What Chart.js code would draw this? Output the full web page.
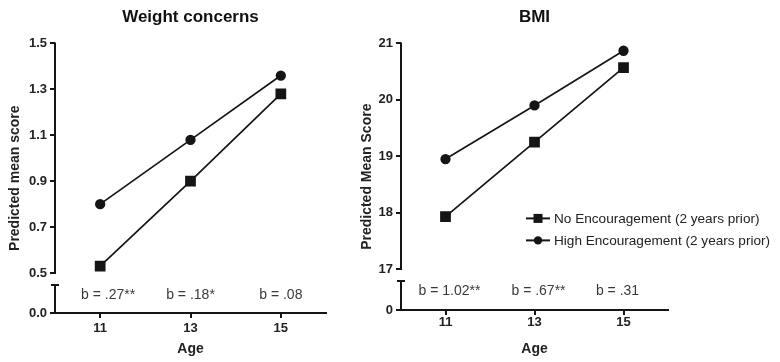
<!DOCTYPE html>
<html>
<head>
<meta charset="utf-8">
<script src="https://cdn.jsdelivr.net/npm/chart.js@4.4.1/dist/chart.umd.min.js"></script>
<style>
  html, body { margin: 0; padding: 0; background: #fff; }
  body { width: 780px; height: 362px; position: relative; overflow: hidden; }
  .panel { position: absolute; top: 0; height: 362px; }
  #leftPanel { left: 0; width: 340px; }
  #rightPanel { left: 340px; width: 440px; }
</style>
</head>
<body>
<div class="panel" id="leftPanel"><canvas id="weightChart"></canvas></div>
<div class="panel" id="rightPanel"><canvas id="bmiChart"></canvas></div>
<script>
/* global Chart */
const ages = [11, 13, 15];
const seriesLabels = ["No Encouragement (2 years prior)", "High Encouragement (2 years prior)"];

const weightNoEnc = [0.53, 0.90, 1.28];
const weightHighEnc = [0.80, 1.08, 1.36];
const weightTicks = [0.5, 0.7, 0.9, 1.1, 1.3, 1.5];
const weightSlopes = ["b = .27**", "b = .18*", "b = .08"];

const bmiNoEnc = [17.93, 19.25, 20.57];
const bmiHighEnc = [18.95, 19.90, 20.87];
const bmiTicks = [17, 18, 19, 20, 21];
const bmiSlopes = ["b = 1.02**", "b = .67**", "b = .31"];

const INK = "#151515";
Chart.defaults.font.family = "'Liberation Sans', Arial, Helvetica, sans-serif";
Chart.defaults.color = "#222";

// draws the y axis line with a gap above the zero point, plus the slope labels
const brokenAxis = {
  id: "brokenAxis",
  afterDraw(chart, args, opts) {
    const { ctx, chartArea, scales } = chart;
    const y = scales.y, x = scales.x;
    const ax = chartArea.left;
    const top = y.getPixelForValue(y.max);
    const bottom = y.getPixelForValue(y.min);
    const brk = y.getPixelForValue(opts.breakAt);
    const restart = brk + opts.gap;
    ctx.save();
    ctx.strokeStyle = INK;
    ctx.lineWidth = 2;
    ctx.beginPath();
    ctx.moveTo(ax, top - 1);
    ctx.lineTo(ax, brk + 1);
    ctx.moveTo(ax, restart);
    ctx.lineTo(ax, bottom);
    ctx.moveTo(ax - 4, restart);
    ctx.lineTo(ax + 4, restart);
    ctx.stroke();

    ctx.fillStyle = "#3a3a3a";
    ctx.font = "14px 'Liberation Sans', Arial, sans-serif";
    ctx.textAlign = "center";
    ctx.textBaseline = "middle";
    const ly = (restart + bottom) / 2 - 4;
    opts.slopes.forEach((txt, i) => {
      ctx.fillText(txt, x.getPixelForValue(ages[i]) + (opts.shift ? opts.shift[i] : 0), ly);
    });
    ctx.restore();
  }
};

// legend drawn inside the plot, like the original figure
const seriesKey = {
  id: "seriesKey",
  afterDraw(chart, args, opts) {
    if (!opts.show) return;
    const { ctx, chartArea } = chart;
    let lx = chartArea.left + opts.dx;
    let ly = chartArea.top + opts.dy;
    ctx.save();
    ctx.font = "13.6px 'Liberation Sans', Arial, sans-serif";
    ctx.textBaseline = "middle";
    ctx.textAlign = "left";
    chart.data.datasets.forEach((ds) => {
      ctx.strokeStyle = INK;
      ctx.fillStyle = INK;
      ctx.lineWidth = 2;
      ctx.beginPath();
      ctx.moveTo(lx, ly);
      ctx.lineTo(lx + 24, ly);
      ctx.stroke();
      const mx = lx + 12;
      if (ds.pointStyle === "rect") {
        ctx.fillRect(mx - 4.5, ly - 4.5, 9, 9);
      } else {
        ctx.beginPath();
        ctx.arc(mx, ly, 4.2, 0, Math.PI * 2);
        ctx.fill();
      }
      ctx.fillStyle = "#222";
      ctx.fillText(ds.label, lx + 28, ly + 1);
      ly += 22;
    });
    ctx.restore();
  }
};

function makePanel(canvasId, cfg) {
  const canvas = document.getElementById(canvasId);
  const toPoints = (vals) => vals.map((v, i) => ({ x: ages[i], y: v }));
  new Chart(canvas.getContext("2d"), {
    type: "line",
    data: {
      datasets: [
        {
          label: seriesLabels[0],
          data: toPoints(cfg.noEnc),
          borderColor: INK,
          backgroundColor: INK,
          borderWidth: 1.7,
          pointStyle: "rect",
          pointRadius: 6.4,
          pointHoverRadius: 6.4,
          tension: 0
        },
        {
          label: seriesLabels[1],
          data: toPoints(cfg.highEnc),
          borderColor: INK,
          backgroundColor: INK,
          borderWidth: 1.7,
          pointStyle: "circle",
          pointRadius: 4.3,
          pointHoverRadius: 4.3,
          tension: 0
        }
      ]
    },
    options: {
      responsive: true,
      maintainAspectRatio: false,
      animation: false,
      events: [],
      layout: { padding: cfg.padding },
      plugins: {
        legend: { display: false },
        tooltip: { enabled: false },
        title: {
          display: true,
          text: cfg.title,
          fullSize: false,
          color: "#111",
          font: { size: 17, weight: "bold" },
          padding: { top: 7, bottom: 16 }
        },
        brokenAxis: { breakAt: cfg.ticks[0], gap: 12, slopes: cfg.slopes, shift: cfg.shift },
        seriesKey: cfg.key
      },
      scales: {
        x: {
          type: "linear",
          min: 10,
          max: 16,
          afterBuildTicks: (s) => { s.ticks = ages.map((v) => ({ value: v })); },
          afterFit: (s) => { s.height = cfg.xHeight; },
          grid: { drawOnChartArea: false, drawTicks: true, tickLength: 5, color: INK, lineWidth: 2 },
          border: { display: true, color: INK, width: 2 },
          ticks: { font: { size: 13, weight: "bold" }, padding: cfg.xTickPad, color: "#222" },
          title: { display: true, text: "Age", color: "#222", font: { size: 14, weight: "bold" }, padding: { top: 4, bottom: 4 } }
        },
        y: {
          min: cfg.floor,
          max: cfg.ticks[cfg.ticks.length - 1],
          afterBuildTicks: (s) => { s.ticks = [cfg.floor, ...cfg.ticks].map((v) => ({ value: v })); },
          afterFit: (s) => { s.width = cfg.yWidth; },
          grid: { drawOnChartArea: false, drawTicks: true, tickLength: 5, color: INK, lineWidth: 2 },
          border: { display: false },
          ticks: {
            font: { size: 13, weight: "bold" },
            padding: 3,
            color: "#222",
            callback: (v) => (v === cfg.floor ? cfg.floorLabel : cfg.fmt(v))
          },
          title: { display: true, text: cfg.yTitle, color: "#222", font: { size: 14, weight: "bold" } }
        }
      }
    },
    plugins: [brokenAxis, seriesKey]
  });
}

document.addEventListener("DOMContentLoaded", () => {
  // --- Weight concerns ---
  makePanel("weightChart", {
    title: "Weight concerns",
    yTitle: "Predicted mean score",
    noEnc: weightNoEnc,
    highEnc: weightHighEnc,
    ticks: weightTicks,
    floor: 0.326,
    floorLabel: "0.0",
    fmt: (v) => v.toFixed(1),
    slopes: weightSlopes,
    shift: [8, 0, 0],
    padding: { left: 3, right: 14, top: 0, bottom: 0 },
    yWidth: 52,
    xHeight: 49,
    xTickPad: 3,
    key: { show: false }
  });

  // --- BMI ---
  makePanel("bmiChart", {
    title: "BMI",
    yTitle: "Predicted Mean Score",
    noEnc: bmiNoEnc,
    highEnc: bmiHighEnc,
    ticks: bmiTicks,
    floor: 16.274,
    floorLabel: "0",
    fmt: (v) => String(v),
    slopes: bmiSlopes,
    shift: [4, 4, -6],
    padding: { left: 15, right: 112, top: 0, bottom: 0 },
    yWidth: 46,
    xHeight: 52,
    xTickPad: 0,
    key: { show: true, dx: 125, dy: 175 }
  });
});
</script>
</body>
</html>
